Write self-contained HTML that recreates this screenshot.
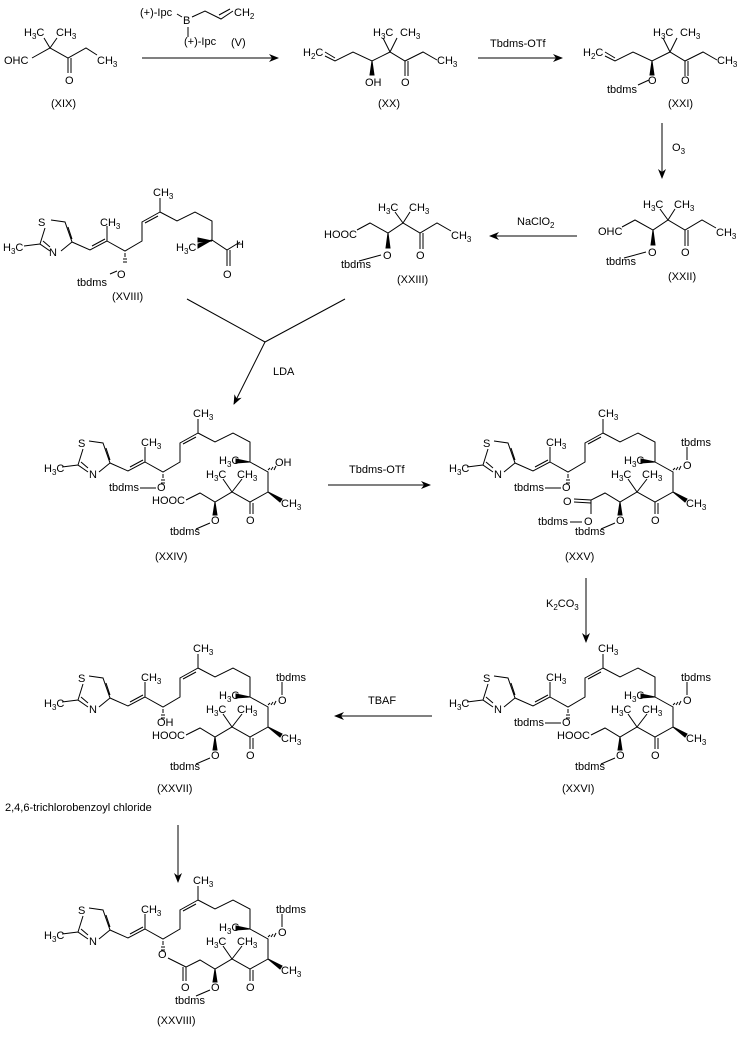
<!DOCTYPE html>
<html><head><meta charset="utf-8"><style>
html,body{margin:0;padding:0;background:#fff}
svg{display:block}
text{font-family:"Liberation Sans",Arial,sans-serif;font-size:11px;fill:#000}
.s{font-size:8px}
</style></head><body>
<svg width="741" height="1052" viewBox="0 0 741 1052" xmlns="http://www.w3.org/2000/svg">
<defs>
<marker id="ah" markerWidth="10" markerHeight="8" refX="9" refY="4" orient="auto" markerUnits="userSpaceOnUse"><path d="M0,0 L10,4 L0,8 L3,4z" fill="#000"/></marker>
<g id="thz" stroke="#000" stroke-width="1" fill="none">
<path d="M89,441 L103,443 L110,463 L99,472 M88,472 L78,465 L83,449 M106,448 L110,460 M81,462 L88,468 M62,467 L78,465"/>
</g>
<g id="chainA" stroke="#000" stroke-width="1" fill="none">
<path d="M110,463 L128,471 L145,462 L145,447 M130,467 L143,460 M145,462 L163,472 L180,462 L180,443 L198,433 L198,419 M183,444 L196,437 M198,433 L215,442 L233,433 L250,442 L250,462"/>
<path d="M163,474 L163,476 M162,477 L164,477 M161,480 L165,480 M161,483 L165,483" />
<path d="M250,462 L236,459 L236,463 Z" fill="#000"/>
</g>
<g id="ringB" stroke="#000" stroke-width="1" fill="none">
<path d="M250,462 L268,472 L268,492 L250,502 L232,492 L215,502 L200,493 L186,500 M250,502 L250,514 M253,503 L253,514 M232,492 L223,479 M232,492 L242,479"/>
<path d="M268,470 L270,468 M271,470 L273,467 M274,470 L276,466"/>
<path d="M268,492 L282,499 L280,502 Z" fill="#000"/>
<path d="M215,502 L213,515 L217,515 Z" fill="#000"/>
<path d="M196,529 L210,523"/>
</g>
<g id="mac"><use href="#thz"/><use href="#chainA"/><use href="#ringB"/></g>
</defs>

<!-- XIX -->
<g stroke="#000" fill="none"><path d="M32,58 L50,48 L68,58 L86,48 L97,55 M50,48 L44,38 M50,48 L57,38 M68,58 L68,73 M71,58 L71,73"/></g>
<text x="24" y="36">H<tspan class="s" dy="3">3</tspan><tspan dy="-3">C</tspan></text>
<text x="56" y="36">CH<tspan class="s" dy="3">3</tspan></text>
<text x="4" y="64">OHC</text>
<text x="97" y="64">CH<tspan class="s" dy="3">3</tspan></text>
<text x="65" y="84">O</text>
<text x="51" y="107">(XIX)</text>
<!-- reagent V -->
<line x1="142" y1="58" x2="278" y2="58" stroke="#000" marker-end="url(#ah)"/>
<text x="140" y="16">(+)-Ipc</text>
<text x="183" y="24">B</text>
<g stroke="#000" fill="none"><path d="M177,14 L182,17 M192,17 L205,11 L221,19 L233,11 M219,15 L230,9 M188,27 L188,37"/></g>
<text x="234" y="16">CH<tspan class="s" dy="3">2</tspan></text>
<text x="184" y="45">(+)-Ipc</text>
<text x="231" y="46">(V)</text>
<!-- XX -->
<g stroke="#000" fill="none"><path d="M325,56 L335,61 L353,52 L372,61 L390,52 L405,61 L423,52 L437,60 M325,52 L335,58 M390,52 L383,38 M390,52 L397,38 M405,61 L405,76 M408,61 L408,76"/><path d="M372,61 L370,75 L374,75 Z" fill="#000"/></g>
<text x="303" y="56">H<tspan class="s" dy="3">2</tspan><tspan dy="-3">C</tspan></text>
<text x="373" y="36">H<tspan class="s" dy="3">3</tspan><tspan dy="-3">C</tspan></text>
<text x="400" y="36">CH<tspan class="s" dy="3">3</tspan></text>
<text x="437" y="64">CH<tspan class="s" dy="3">3</tspan></text>
<text x="365" y="86">OH</text>
<text x="401" y="86">O</text>
<text x="378" y="107">(XX)</text>
<line x1="478" y1="58" x2="562" y2="58" stroke="#000" marker-end="url(#ah)"/>
<text x="490" y="47">Tbdms-OTf</text>
<!-- XXI -->
<g stroke="#000" fill="none"><path d="M605,56 L615,61 L633,52 L652,61 L670,52 L685,61 L703,52 L717,60 M605,52 L615,58 M670,52 L663,38 M670,52 L677,38 M685,61 L685,76 M688,61 L688,76 M638,85 L649,80"/><path d="M652,61 L650,75 L654,75 Z" fill="#000"/></g>
<text x="583" y="56">H<tspan class="s" dy="3">2</tspan><tspan dy="-3">C</tspan></text>
<text x="653" y="36">H<tspan class="s" dy="3">3</tspan><tspan dy="-3">C</tspan></text>
<text x="680" y="36">CH<tspan class="s" dy="3">3</tspan></text>
<text x="717" y="64">CH<tspan class="s" dy="3">3</tspan></text>
<text x="648" y="84">O</text>
<text x="681" y="84">O</text>
<text x="607" y="93">tbdms</text>
<text x="668" y="107">(XXI)</text>
<line x1="662" y1="123" x2="662" y2="178" stroke="#000" marker-end="url(#ah)"/>
<text x="672" y="151">O<tspan class="s" dy="3">3</tspan></text>
<!-- XXII -->
<g stroke="#000" fill="none"><path d="M622,227 L635,220 L653,230 L668,220 L685,230 L702,220 L716,228 M668,220 L660,209 M668,220 L675,209 M685,230 L685,246 M688,230 L688,246 M624,258 L646,252"/><path d="M653,230 L651,245 L655,245 Z" fill="#000"/></g>
<text x="598" y="235">OHC</text>
<text x="643" y="208">H<tspan class="s" dy="3">3</tspan><tspan dy="-3">C</tspan></text>
<text x="674" y="208">CH<tspan class="s" dy="3">3</tspan></text>
<text x="716" y="236">CH<tspan class="s" dy="3">3</tspan></text>
<text x="648" y="256">O</text>
<text x="681" y="256">O</text>
<text x="606" y="265">tbdms</text>
<text x="668" y="280">(XXII)</text>
<line x1="577" y1="236" x2="490" y2="236" stroke="#000" marker-end="url(#ah)"/>
<text x="517" y="225">NaClO<tspan class="s" dy="3">2</tspan></text>
<!-- XXIII -->
<g transform="translate(-265,3)">
<g stroke="#000" fill="none"><path d="M622,227 L635,220 L653,230 L668,220 L685,230 L702,220 L716,228 M668,220 L660,209 M668,220 L675,209 M685,230 L685,246 M688,230 L688,246 M624,258 L646,252"/><path d="M653,230 L651,245 L655,245 Z" fill="#000"/></g>
<text x="643" y="208">H<tspan class="s" dy="3">3</tspan><tspan dy="-3">C</tspan></text>
<text x="674" y="208">CH<tspan class="s" dy="3">3</tspan></text>
<text x="716" y="236">CH<tspan class="s" dy="3">3</tspan></text>
<text x="648" y="256">O</text>
<text x="681" y="256">O</text>
<text x="606" y="265">tbdms</text>
<text x="662" y="280">(XXIII)</text>
</g>
<text x="324" y="238">HOOC</text>
<!-- XVIII -->
<g transform="translate(-38,-221)"><use href="#thz"/><use href="#chainA"/></g>
<g stroke="#000" fill="none"><path d="M212,221 L212,240 L227,250 L240,242 M227,250 L227,266 M230,250 L230,266 M110,274 L117,271"/><path d="M212,240 L198,244 L198,248 Z" fill="#000"/></g>
<text x="3" y="251">H<tspan class="s" dy="3">3</tspan><tspan dy="-3">C</tspan></text>
<text x="38" y="226">S</text><text x="49" y="256">N</text>
<text x="100" y="226">CH<tspan class="s" dy="3">3</tspan></text>
<text x="153" y="196">CH<tspan class="s" dy="3">3</tspan></text>
<text x="176" y="251">H<tspan class="s" dy="3">3</tspan><tspan dy="-3">C</tspan></text>
<text x="236" y="248">H</text>
<text x="223" y="278">O</text>
<text x="117" y="278">O</text>
<text x="77" y="286">tbdms</text>
<text x="112" y="300">(XVIII)</text>
<!-- converging -->
<g stroke="#000" fill="none"><path d="M187,299 L265,342 L345,299"/></g>
<line x1="265" y1="342" x2="234" y2="404" stroke="#000" marker-end="url(#ah)"/>
<text x="273" y="375">LDA</text>

<!-- XXIV -->
<use href="#mac"/>
<g stroke="#000"><path d="M140,488 L156,488"/></g>
<text x="44" y="472">H<tspan class="s" dy="3">3</tspan><tspan dy="-3">C</tspan></text>
<text x="78" y="447">S</text><text x="89" y="478">N</text>
<text x="141" y="446">CH<tspan class="s" dy="3">3</tspan></text>
<text x="193" y="417">CH<tspan class="s" dy="3">3</tspan></text>
<text x="219" y="464">H<tspan class="s" dy="3">3</tspan><tspan dy="-3">C</tspan></text>
<text x="275" y="466">OH</text>
<text x="206" y="478">H<tspan class="s" dy="3">3</tspan><tspan dy="-3">C</tspan></text>
<text x="237" y="478">CH<tspan class="s" dy="3">3</tspan></text>
<text x="281" y="507">CH<tspan class="s" dy="3">3</tspan></text>
<text x="157" y="491">O</text>
<text x="109" y="491">tbdms</text>
<text x="152" y="504">HOOC</text>
<text x="246" y="524">O</text>
<text x="211" y="524">O</text>
<text x="170" y="535">tbdms</text>
<text x="155" y="560">(XXIV)</text>
<line x1="328" y1="485" x2="430" y2="485" stroke="#000" marker-end="url(#ah)"/>
<text x="349" y="473">Tbdms-OTf</text>

<!-- XXV -->
<g transform="translate(405,0)">
<use href="#thz"/><use href="#chainA"/>
<g stroke="#000" fill="none"><path d="M250,462 L268,472 L268,492 L250,502 L232,492 L215,502 L200,493 L186,500 L186,514 M169,499 L186,500 M169,502 L186,503 M250,502 L250,514 M253,503 L253,514 M232,492 L223,479 M232,492 L242,479 M196,529 L210,523 M140,488 L156,488 M165,522 L177,522 M282,460 L282,447"/><path d="M268,492 L282,499 L280,502 Z" fill="#000"/><path d="M215,502 L213,515 L217,515 Z" fill="#000"/><path d="M268,470 L270,468 M271,470 L273,467 M274,470 L276,466" stroke="#000"/></g>
<text x="44" y="472">H<tspan class="s" dy="3">3</tspan><tspan dy="-3">C</tspan></text>
<text x="78" y="447">S</text><text x="89" y="478">N</text>
<text x="141" y="446">CH<tspan class="s" dy="3">3</tspan></text>
<text x="193" y="417">CH<tspan class="s" dy="3">3</tspan></text>
<text x="219" y="464">H<tspan class="s" dy="3">3</tspan><tspan dy="-3">C</tspan></text>
<text x="278" y="469">O</text>
<text x="276" y="446">tbdms</text>
<text x="206" y="478">H<tspan class="s" dy="3">3</tspan><tspan dy="-3">C</tspan></text>
<text x="237" y="478">CH<tspan class="s" dy="3">3</tspan></text>
<text x="281" y="507">CH<tspan class="s" dy="3">3</tspan></text>
<text x="157" y="491">O</text>
<text x="109" y="491">tbdms</text>
<text x="158" y="505">O</text>
<text x="179" y="525">O</text>
<text x="163" y="525" text-anchor="end">tbdms</text>
<text x="246" y="524">O</text>
<text x="211" y="524">O</text>
<text x="170" y="535">tbdms</text>
<text x="160" y="560">(XXV)</text>
</g>
<line x1="586" y1="578" x2="586" y2="642" stroke="#000" marker-end="url(#ah)"/>
<text x="546" y="607">K<tspan class="s" dy="3">2</tspan><tspan dy="-3">CO</tspan><tspan class="s" dy="3">3</tspan></text>

<!-- XXVI -->
<g transform="translate(405,235)">
<use href="#thz"/><use href="#chainA"/>
<g stroke="#000" fill="none"><path d="M250,462 L268,472 L268,492 L250,502 L232,492 L215,502 L200,493 L186,500 M250,502 L250,514 M253,503 L253,514 M232,492 L223,479 M232,492 L242,479 M196,529 L210,523 M140,488 L156,488 M282,460 L282,447"/><path d="M268,492 L282,499 L280,502 Z" fill="#000"/><path d="M215,502 L213,515 L217,515 Z" fill="#000"/><path d="M268,470 L270,468 M271,470 L273,467 M274,470 L276,466" stroke="#000"/></g>
<text x="44" y="472">H<tspan class="s" dy="3">3</tspan><tspan dy="-3">C</tspan></text>
<text x="78" y="447">S</text><text x="89" y="478">N</text>
<text x="141" y="446">CH<tspan class="s" dy="3">3</tspan></text>
<text x="193" y="417">CH<tspan class="s" dy="3">3</tspan></text>
<text x="219" y="464">H<tspan class="s" dy="3">3</tspan><tspan dy="-3">C</tspan></text>
<text x="278" y="469">O</text>
<text x="276" y="446">tbdms</text>
<text x="206" y="478">H<tspan class="s" dy="3">3</tspan><tspan dy="-3">C</tspan></text>
<text x="237" y="478">CH<tspan class="s" dy="3">3</tspan></text>
<text x="281" y="507">CH<tspan class="s" dy="3">3</tspan></text>
<text x="157" y="491">O</text>
<text x="109" y="491">tbdms</text>
<text x="152" y="504">HOOC</text>
<text x="246" y="524">O</text>
<text x="211" y="524">O</text>
<text x="170" y="535">tbdms</text>
<text x="157" y="557">(XXVI)</text>
</g>
<line x1="432" y1="716" x2="335" y2="716" stroke="#000" marker-end="url(#ah)"/>
<text x="368" y="704">TBAF</text>

<!-- XXVII -->
<g transform="translate(0,235)">
<use href="#thz"/><use href="#chainA"/>
<g stroke="#000" fill="none"><path d="M250,462 L268,472 L268,492 L250,502 L232,492 L215,502 L200,493 L186,500 M250,502 L250,514 M253,503 L253,514 M232,492 L223,479 M232,492 L242,479 M196,529 L210,523 M282,460 L282,447"/><path d="M268,492 L282,499 L280,502 Z" fill="#000"/><path d="M215,502 L213,515 L217,515 Z" fill="#000"/><path d="M268,470 L270,468 M271,470 L273,467 M274,470 L276,466" stroke="#000"/></g>
<text x="44" y="472">H<tspan class="s" dy="3">3</tspan><tspan dy="-3">C</tspan></text>
<text x="78" y="447">S</text><text x="89" y="478">N</text>
<text x="141" y="446">CH<tspan class="s" dy="3">3</tspan></text>
<text x="193" y="417">CH<tspan class="s" dy="3">3</tspan></text>
<text x="219" y="464">H<tspan class="s" dy="3">3</tspan><tspan dy="-3">C</tspan></text>
<text x="278" y="469">O</text>
<text x="276" y="446">tbdms</text>
<text x="206" y="478">H<tspan class="s" dy="3">3</tspan><tspan dy="-3">C</tspan></text>
<text x="237" y="478">CH<tspan class="s" dy="3">3</tspan></text>
<text x="281" y="507">CH<tspan class="s" dy="3">3</tspan></text>
<text x="157" y="491">OH</text>
<text x="152" y="504">HOOC</text>
<text x="246" y="524">O</text>
<text x="211" y="524">O</text>
<text x="170" y="535">tbdms</text>
<text x="157" y="557">(XXVII)</text>
</g>
<line x1="178" y1="825" x2="178" y2="882" stroke="#000" marker-end="url(#ah)"/>
<text x="5" y="811">2,4,6-trichlorobenzoyl chloride</text>

<!-- XXVIII -->
<g transform="translate(0,467)">
<use href="#thz"/><use href="#chainA"/>
<g stroke="#000" fill="none"><path d="M250,462 L268,472 L268,492 L250,502 L232,492 L215,502 L200,493 L186,500 L186,514 M183,500 L183,514 M168,491 L186,500 M250,502 L250,514 M253,503 L253,514 M232,492 L223,479 M232,492 L242,479 M196,529 L210,523 M282,460 L282,447"/><path d="M268,492 L282,499 L280,502 Z" fill="#000"/><path d="M215,502 L213,515 L217,515 Z" fill="#000"/><path d="M268,470 L270,468 M271,470 L273,467 M274,470 L276,466" stroke="#000"/></g>
<text x="44" y="472">H<tspan class="s" dy="3">3</tspan><tspan dy="-3">C</tspan></text>
<text x="78" y="447">S</text><text x="89" y="478">N</text>
<text x="141" y="446">CH<tspan class="s" dy="3">3</tspan></text>
<text x="193" y="417">CH<tspan class="s" dy="3">3</tspan></text>
<text x="219" y="464">H<tspan class="s" dy="3">3</tspan><tspan dy="-3">C</tspan></text>
<text x="278" y="469">O</text>
<text x="276" y="446">tbdms</text>
<text x="206" y="478">H<tspan class="s" dy="3">3</tspan><tspan dy="-3">C</tspan></text>
<text x="237" y="478">CH<tspan class="s" dy="3">3</tspan></text>
<text x="281" y="507">CH<tspan class="s" dy="3">3</tspan></text>
<text x="158" y="491">O</text>
<text x="181" y="524">O</text>
<text x="246" y="524">O</text>
<text x="211" y="524">O</text>
<text x="175" y="537">tbdms</text>
<text x="157" y="557">(XXVIII)</text>
</g>
</svg>
</body></html>
